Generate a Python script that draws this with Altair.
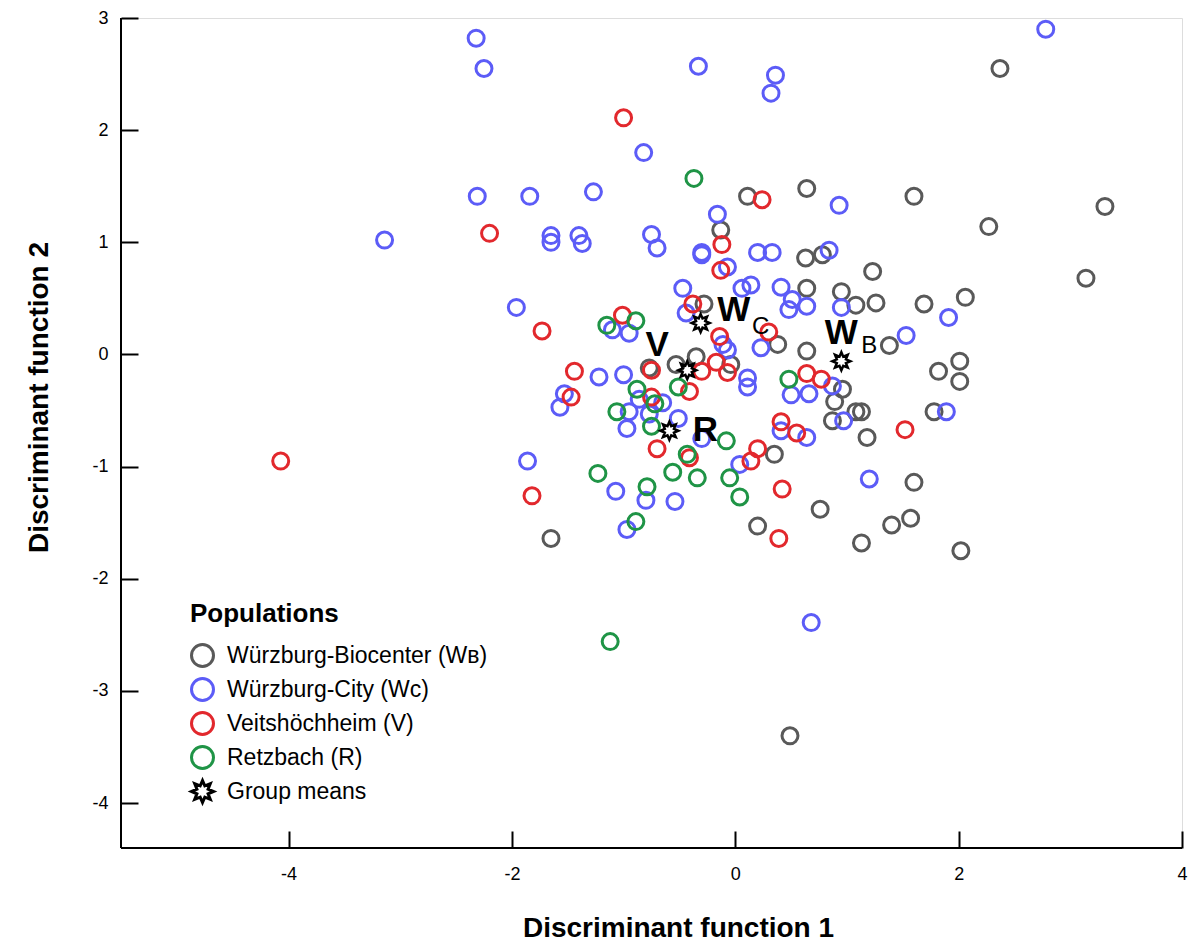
import math
import altair as alt
import pandas as pd

# ---------------- data ----------------
pops = ["Würzburg-Biocenter (Wʙ)", "Würzburg-City (Wᴄ)", "Veitshöchheim (V)",
        "Retzbach (R)", "Group means"]
colors = ["#595959", "#5c5cf7", "#e2282d", "#1f9446", "#000000"]

wb_x = [0.11, 0.64, 2.37, 1.60, 3.31, 2.27, 3.14, -0.13, 0.63, 0.78, 1.23, 0.64, 0.95, 1.08, 1.26,
        1.69, 2.06, 1.38, 0.64, 0.38, -0.28, -0.77, -0.53, -0.35, -0.04, 0.96, 0.89, 0.87, 1.08,
        1.13, 1.18, 1.82, 2.01, 2.01, 1.78, 0.35, 1.60, 0.76, 1.40, 1.57, 1.13, 2.02, 0.20, -1.65, 0.49]
wb_y = [1.41, 1.48, 2.55, 1.41, 1.32, 1.14, 0.68, 1.11, 0.86, 0.89, 0.74, 0.59, 0.56, 0.44, 0.46,
        0.45, 0.51, 0.08, 0.03, 0.09, 0.45, -0.12, -0.09, -0.02, -0.09, -0.31, -0.42, -0.59, -0.51,
        -0.51, -0.74, -0.15, -0.06, -0.24, -0.51, -0.89, -1.14, -1.38, -1.52, -1.46, -1.68, -1.75,
        -1.53, -1.64, -3.40]

wc_x = [-2.32, -2.25, -0.33, 0.36, 0.32, 2.78, -0.82, -2.31, -1.84, -1.27, -3.14, -1.65, -1.65,
        -1.40, -1.37, -0.75, -0.70, -0.16, -0.30, -0.30, 0.93, 0.20, 0.33, 0.84, -0.07, -0.47, 0.06,
        0.14, 0.41, 0.51, 0.48, 0.64, 0.95, 1.91, 1.53, -1.96, -0.44, -1.10, -0.95, -0.11, -0.07,
        0.23, -1.22, -1.00, -1.53, -1.57, -0.86, -0.65, -0.77, -0.95, -0.97, -0.51, -0.30, 0.11,
        0.11, 0.50, 0.66, 0.87, 0.41, 0.64, 0.97, 1.89, 0.04, 1.20, -1.86, -1.07, -0.80, -0.54,
        -0.97, 0.68]
wc_y = [2.82, 2.55, 2.57, 2.49, 2.33, 2.90, 1.80, 1.41, 1.41, 1.45, 1.02, 1.06, 1.00, 1.06, 0.99,
        1.07, 0.95, 1.25, 0.91, 0.89, 1.33, 0.91, 0.91, 0.93, 0.78, 0.59, 0.59, 0.62, 0.60, 0.49,
        0.40, 0.43, 0.42, 0.33, 0.17, 0.42, 0.37, 0.22, 0.19, 0.09, 0.04, 0.06, -0.20, -0.18, -0.35,
        -0.47, -0.40, -0.43, -0.53, -0.51, -0.66, -0.57, -0.75, -0.21, -0.29, -0.36, -0.35, -0.28,
        -0.68, -0.74, -0.59, -0.51, -0.98, -1.11, -0.95, -1.22, -1.30, -1.31, -1.56, -2.39]

v_x = [-1.00, 0.24, -2.20, -0.12, -0.13, -0.38, -1.73, -1.01, -0.14, 0.30, -0.75, -1.44, -1.47,
       -0.30, -0.17, -0.07, -0.41, -0.75, 0.64, 0.77, 0.41, 0.55, 1.52, -0.70, -0.41, 0.20, 0.14,
       0.42, 0.39, -1.82, -4.07]
v_y = [2.11, 1.38, 1.08, 0.98, 0.75, 0.45, 0.21, 0.35, 0.16, 0.20, -0.14, -0.15, -0.38, -0.15,
       -0.07, -0.16, -0.33, -0.38, -0.17, -0.22, -0.60, -0.70, -0.67, -0.84, -0.92, -0.84, -0.95,
       -1.20, -1.64, -1.26, -0.95]

r_x = [-0.37, -1.15, -0.89, -0.88, -0.72, -0.51, -1.06, -0.75, -0.43, -0.08, 0.48, -1.23, -0.79,
       -0.56, -0.34, -0.05, 0.04, -0.89, -1.12]
r_y = [1.57, 0.26, 0.30, -0.31, -0.44, -0.29, -0.51, -0.64, -0.89, -0.77, -0.22, -1.06, -1.18,
       -1.05, -1.10, -1.10, -1.27, -1.49, -2.56]

mean_key = ["WB", "WC", "V", "R"]
mean_x = [0.95, -0.31, -0.43, -0.59]
mean_y = [-0.06, 0.28, -0.14, -0.68]
mean_letter = ["W", "W", "V", "R"]
mean_sub = ["B", "C", "", ""]

x_ticks = [-4, -2, 0, 2, 4]
y_ticks = [-4, -3, -2, -1, 0, 1, 2, 3]
x_domain = [-5.5, 4]
y_domain = [-4.4, 3]

# ---------------- styles ----------------
FONT = "Liberation Sans"
letter_off = {"WB": (0, -28), "WC": (33, -13), "V": (-30, -25), "R": (36, -1)}
sub_off = {"WB": (28, -15), "WC": (60, 4)}

# 8-pointed star (group-mean symbol), unit coordinates
pts = []
for k in range(16):
    ang = math.pi / 2 + k * math.pi / 8
    rr = 1.0 if k % 2 == 0 else 0.55
    pts.append(f"{rr * math.cos(ang):.3f},{-rr * math.sin(ang):.3f}")
star_path = "M" + " L".join(pts) + " Z"

# ---------------- tables ----------------
frames = []
for name, xs, ys in [(pops[0], wb_x, wb_y), (pops[1], wc_x, wc_y),
                     (pops[2], v_x, v_y), (pops[3], r_x, r_y)]:
    frames.append(pd.DataFrame({"x": xs, "y": ys, "pop": name}))
df = pd.concat(frames, ignore_index=True)
df["order"] = range(len(df))

means = pd.DataFrame({"key": mean_key, "x": mean_x, "y": mean_y,
                      "letter": mean_letter, "sub": mean_sub, "pop": pops[4]})

frame_df = pd.DataFrame({"x0": [x_domain[0], x_domain[0]], "x1": [x_domain[0], x_domain[1]],
                         "y0": [y_domain[0], y_domain[0]], "y1": [y_domain[1], y_domain[0]]})

# ---------------- scales / guides ----------------
xs_ = alt.Scale(domain=x_domain, nice=False, zero=False)
ys_ = alt.Scale(domain=y_domain, nice=False, zero=False)
color_scale = alt.Scale(domain=pops, range=colors)
shape_scale = alt.Scale(domain=pops, range=["circle"] * 4 + [star_path])

x_axis = alt.Axis(values=x_ticks, title="Discriminant function 1", offset=-17, tickSize=17,
                  tickWidth=2, tickColor="black", domain=False, grid=False, labelPadding=17,
                  labelFontSize=18, labelFont=FONT, labelColor="black", labelFlush=False,
                  labelExpr="'' + datum.value",
                  titleFontSize=28, titleFont=FONT, titleFontWeight="bold", titleColor="black",
                  titlePadding=31, titleX=557)
y_axis = alt.Axis(values=y_ticks, title="Discriminant function 2", offset=-17, tickSize=17,
                  tickWidth=2, tickColor="black", domain=False, grid=False, labelPadding=13,
                  labelFontSize=18, labelFont=FONT, labelColor="black", labelFlush=False,
                  labelExpr="'' + datum.value",
                  titleFontSize=28, titleFont=FONT, titleFontWeight="bold", titleColor="black",
                  titlePadding=38, titleY=379)

legend = alt.Legend(title="Populations", orient="none", legendX=69, legendY=583,
                    titleFontSize=26, titleFont=FONT, titleFontWeight="bold", titleColor="black",
                    labelFontSize=23, labelFont=FONT, labelColor="black", labelLimit=0,
                    symbolSize=484, symbolStrokeWidth=3, rowPadding=-1, labelOffset=12,
                    titlePadding=16, padding=0)

# ---------------- layers ----------------
frame = alt.Chart(frame_df).mark_rule(color="black", strokeWidth=2).encode(
    x=alt.X("x0:Q", scale=xs_, axis=x_axis), x2="x1:Q",
    y=alt.Y("y0:Q", scale=ys_, axis=y_axis), y2="y1:Q")

points = alt.Chart(df).mark_point(filled=False, size=256, strokeWidth=3, opacity=1).encode(
    x=alt.X("x:Q", scale=xs_, axis=x_axis),
    y=alt.Y("y:Q", scale=ys_, axis=y_axis),
    color=alt.Color("pop:N", scale=color_scale, legend=legend),
    shape=alt.Shape("pop:N", scale=shape_scale, legend=legend),
    order=alt.Order("order:Q"),
)

mean_pts = alt.Chart(means).mark_point(filled=False, size=324, strokeWidth=2.5, opacity=1).encode(
    x=alt.X("x:Q", scale=xs_, axis=x_axis), y=alt.Y("y:Q", scale=ys_, axis=y_axis),
    color=alt.Color("pop:N", scale=color_scale, legend=legend),
    shape=alt.Shape("pop:N", scale=shape_scale, legend=legend),
)

labels = []
for key in mean_key:
    dx, dy = letter_off[key]
    labels.append(
        alt.Chart(means).transform_filter(alt.datum.key == key)
        .mark_text(font=FONT, fontSize=35, fontWeight="bold", color="black",
                   align="center", baseline="middle", dx=dx, dy=dy)
        .encode(x=alt.X("x:Q", scale=xs_, axis=x_axis), y=alt.Y("y:Q", scale=ys_, axis=y_axis),
                text="letter:N"))
    if key in sub_off:
        sdx, sdy = sub_off[key]
        labels.append(
            alt.Chart(means).transform_filter(alt.datum.key == key)
            .mark_text(font=FONT, fontSize=24, color="black",
                       align="center", baseline="middle", dx=sdx, dy=sdy)
            .encode(x=alt.X("x:Q", scale=xs_, axis=x_axis), y=alt.Y("y:Q", scale=ys_, axis=y_axis),
                    text="sub:N"))

chart = alt.layer(frame, points, mean_pts, *labels).properties(
    width=1061, height=830,
    padding={"left": 113, "top": 10, "right": 10, "bottom": 95},
    autosize=alt.AutoSizeParams(type="none"),
).configure_view(stroke=None).configure(background="white").configure_axis(
    labelFontSize=18, labelFont=FONT, labelColor="black",
    titleFontSize=28, titleFont=FONT, titleColor="black")

chart.save("out.html", embed_options={"renderer": "svg", "actions": False})
